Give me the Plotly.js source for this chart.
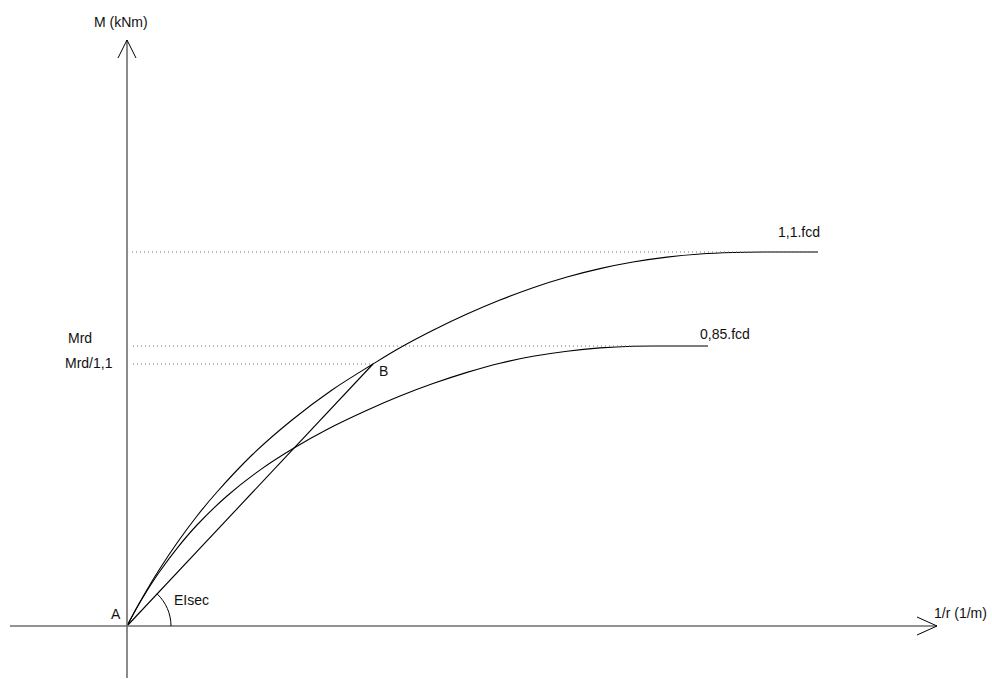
<!DOCTYPE html>
<html>
<head>
<meta charset="utf-8">
<script src="https://cdn.plot.ly/plotly-3.0.1.min.js"></script>
<style>
  html, body { margin: 0; padding: 0; background: #fff; }
  #chart { width: 992px; height: 679px; }
</style>
</head>
<body>
<div id="chart"></div>
<script>
// Moment–curvature diagram (M vs 1/r), curves for 1,1.fcd and 0,85.fcd

// Curvature values (1/r) and moments M for the 1,1.fcd curve
const curvUpper = [0, 10, 20, 32, 50, 70, 90, 125, 165, 205, 246, 273, 306, 340, 373, 406, 440, 473, 506, 540, 573, 606, 640, 691];
const momUpper  = [0, 18.7, 36.3, 56, 83, 110, 134, 171, 206, 236, 262, 278.2, 295.7, 311.9, 325.9, 338.3, 349, 357.4, 364, 368.9, 372, 373.5, 374, 374];

// Curvature values (1/r) and moments M for the 0,85.fcd curve
const curvLower = [0, 10, 20, 32, 50, 70, 100, 135, 167, 200, 240, 273, 306, 340, 373, 406, 440, 473, 506, 540, 581];
const momLower  = [0, 18.4, 35.2, 53.5, 77.7, 101, 130, 157.4, 178, 196.5, 215.7, 229.9, 242.4, 253.6, 262.8, 269.7, 274.8, 278.1, 279.8, 280, 280];

// Reference levels
const mFcd11 = 374;     // plateau of the 1,1.fcd curve
const mRd = 280;        // Mrd
const mRdOver11 = 262;  // Mrd/1,1 (point B)
const curvB = 246;      // curvature at point B

// Axis extents
const xAxisEnd = 810;
const yAxisEnd = 586;

const ink = '#000000';
const axisGrey = '#6e6e6e';
const dotGrey = '#707070';

const curveLine = { color: ink, width: 1.1, shape: 'spline', smoothing: 1 };

const traces = [
  {
    x: curvUpper, y: momUpper, type: 'scatter', mode: 'lines',
    line: curveLine, hoverinfo: 'skip', showlegend: false
  },
  {
    x: curvLower, y: momLower, type: 'scatter', mode: 'lines',
    line: curveLine, hoverinfo: 'skip', showlegend: false
  },
  {
    // secant A–B
    x: [0, curvB], y: [0, mRdOver11], type: 'scatter', mode: 'lines',
    line: { color: ink, width: 1.1 },
    hoverinfo: 'skip', showlegend: false
  }
];

// Arc marking the secant stiffness angle at A
const theta = Math.atan2(mRdOver11, curvB);
const r = 44;
const k = 4 / 3 * Math.tan(theta / 4);
const p3x = r * Math.cos(theta), p3y = r * Math.sin(theta);
const arcPath = 'M ' + r + ',0 C ' + r + ',' + (k * r) + ' ' +
  (p3x + k * r * Math.sin(theta)) + ',' + (p3y - k * r * Math.cos(theta)) + ' ' +
  p3x + ',' + p3y;

const dotted = (x0, x1, y) => ({
  type: 'line', xref: 'x', yref: 'y', x0: x0, x1: x1, y0: y, y1: y,
  line: { color: dotGrey, width: 1, dash: '1px,3px' }
});

const seg = (x0, y0, x1, y1, color, width) => ({
  type: 'line', xref: 'x', yref: 'y', x0: x0, y0: y0, x1: x1, y1: y1,
  line: { color: color, width: width }
});

const shapes = [
  // axes
  seg(-117, 0, xAxisEnd, 0, axisGrey, 1.6),
  seg(0, -52, 0, yAxisEnd, axisGrey, 1.6),
  // arrow heads
  seg(xAxisEnd, 0, xAxisEnd - 20, 9, ink, 1),
  seg(xAxisEnd, 0, xAxisEnd - 20, -9, ink, 1),
  seg(0, yAxisEnd, -9, yAxisEnd - 18, ink, 1),
  seg(0, yAxisEnd, 9, yAxisEnd - 18, ink, 1),
  // reference levels
  dotted(5, 691, mFcd11),
  dotted(6, 581, mRd),
  dotted(6, curvB, mRdOver11),
  // angle arc
  { type: 'path', xref: 'x', yref: 'y', path: arcPath, line: { color: ink, width: 1 } }
];

const lbl = (x, y, text) => ({
  x: x, y: y, xref: 'x', yref: 'y', text: text, showarrow: false,
  xanchor: 'center', yanchor: 'middle',
  font: { family: 'Liberation Sans, Arial, sans-serif', size: 14, color: '#111' }
});

const annotations = [
  lbl(-6, 604, 'M (kNm)'),
  lbl(833, 13, '1/r (1/m)'),
  lbl(672, 394, '1,1.fcd'),
  lbl(598, 292, '0,85.fcd'),
  lbl(-47, 288, 'Mrd'),
  lbl(-38, 263, 'Mrd/1,1'),
  lbl(256, 255, 'B'),
  lbl(-11, 12, 'A'),
  lbl(64, 26, 'EIsec')
];

const hidden = {
  showgrid: false, zeroline: false, showline: false, showticklabels: false,
  ticks: '', fixedrange: true
};

const layout = {
  width: 992, height: 679,
  margin: { l: 0, r: 0, t: 0, b: 0 },
  paper_bgcolor: '#ffffff', plot_bgcolor: '#ffffff',
  xaxis: Object.assign({ range: [-127, 865] }, hidden),
  yaxis: Object.assign({ range: [-53, 626] }, hidden),
  shapes: shapes,
  annotations: annotations,
  showlegend: false
};

Plotly.newPlot('chart', traces, layout, { displayModeBar: false, staticPlot: true });
</script>
</body>
</html>
